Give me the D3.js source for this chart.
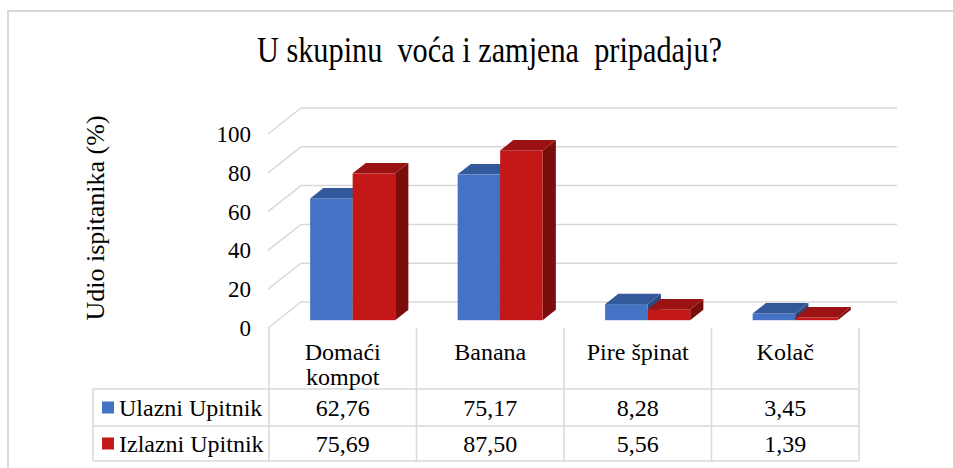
<!DOCTYPE html>
<html>
<head>
<meta charset="utf-8">
<script src="https://cdn.jsdelivr.net/npm/d3@7"></script>
<style>
  body { margin: 0; background: #fff; }
  svg { display: block; }
</style>
</head>
<body>
<svg width="953" height="468"></svg>
<script>
// data
const categories = ["Domaći kompot", "Banana", "Pire špinat", "Kolač"];
const seriesNames = ["Ulazni Upitnik", "Izlazni Upitnik"];
const ulazni = [62.76, 75.17, 8.28, 3.45];
const izlazni = [75.69, 87.50, 5.56, 1.39];
const yTicks = [0, 20, 40, 60, 80, 100];
const title = "U skupinu  voća i zamjena  pripadaju?";
const yTitle = "Udio ispitanika (%)";

const values = [ulazni, izlazni];
const colors = [
  { front: "#4472c4", top: "#34599b", side: "#2b4a82" },
  { front: "#c41718", top: "#9a1212", side: "#7c0d0d" }
];

const serif = "'Liberation Serif', 'Times New Roman', serif";
const svg = d3.select("svg");
const grid = "#d9d9d9";

// every label goes through this so the serif face sticks
function label(sel) {
  return sel.append("text").style("font-family", serif).attr("fill", "#000");
}

// frame
svg.append("rect")
    .attr("x", 8).attr("y", 11)
    .attr("width", 960).attr("height", 470)
    .attr("fill", "none").attr("stroke", grid).attr("stroke-width", 2);

// title (rendered narrow in the original)
label(svg)
    .attr("x", 257).attr("y", 62)
    .attr("font-size", 35)
    .attr("textLength", 465)
    .attr("lengthAdjust", "spacingAndGlyphs")
    .style("white-space", "pre")
    .text(title);

// 3d depth vector of the floor
const depth = { dx: 33, dy: -26 };
const d0 = 0.3, d1 = 0.7;

const x0 = d3.scaleBand().domain(categories).range([269, 859]);
const x1 = d3.scaleBand().domain(seriesNames).range([0, x0.bandwidth()]).paddingOuter(0.735);
const y = d3.scaleLinear().domain([0, 100]).range([328, 134]);
const wallX0 = 268, wallX1 = 864;

// back wall + side wall gridlines
const gl = svg.append("g").attr("stroke", grid).attr("stroke-width", 1.5).attr("fill", "none");
yTicks.forEach(t => {
  gl.append("path").attr("d", d3.line()([
    [wallX0, y(t)],
    [wallX0 + depth.dx, y(t) + depth.dy],
    [wallX1 + depth.dx, y(t) + depth.dy]
  ]));
});

// y tick labels
yTicks.forEach(t => {
  label(svg)
      .attr("x", 251).attr("y", y(t) + 8)
      .attr("text-anchor", "end")
      .attr("font-size", 23)
      .text(t);
});

// y title
label(svg)
    .attr("transform", "translate(104,218) rotate(-90)")
    .attr("text-anchor", "middle")
    .attr("font-size", 26)
    .text(yTitle);

// bars
const bars = svg.append("g");
categories.forEach((c, i) => {
  seriesNames.forEach((s, j) => {
    const v = values[j][i];
    const xl = x0(c) + x1(s) + depth.dx * d0;
    const xr = xl + x1.bandwidth();
    const yb = y(0) + depth.dy * d0;
    const yt = y(v) + depth.dy * d0;
    const ox = depth.dx * (d1 - d0), oy = depth.dy * (d1 - d0);
    const col = colors[j];
    // side
    bars.append("path")
        .attr("d", d3.line()([[xr, yb], [xr + ox, yb + oy], [xr + ox, yt + oy], [xr, yt]]) + "Z")
        .attr("fill", col.side);
    // front
    bars.append("rect")
        .attr("x", xl).attr("y", yt)
        .attr("width", xr - xl).attr("height", yb - yt)
        .attr("fill", col.front);
    // top
    bars.append("path")
        .attr("d", d3.line()([[xl, yt], [xl + ox, yt + oy], [xr + ox, yt + oy], [xr, yt]]) + "Z")
        .attr("fill", col.top);
  });
});

// data table
const rowY = [389, 426, 461];
const tableLeft = 93;
const tg = svg.append("g").attr("stroke", grid).attr("stroke-width", 1.5);
const colEdges = categories.map(c => x0(c)).concat([x0.range()[1]]);
colEdges.forEach(xe => {
  tg.append("line").attr("x1", xe).attr("x2", xe).attr("y1", y(0)).attr("y2", rowY[2]);
});
rowY.forEach(ry => {
  tg.append("line").attr("x1", tableLeft).attr("x2", x0.range()[1]).attr("y1", ry).attr("y2", ry);
});
tg.append("line").attr("x1", tableLeft).attr("x2", tableLeft).attr("y1", rowY[0]).attr("y2", rowY[2]);

// category labels (wrapped to the column)
categories.forEach(c => {
  const cx = x0(c) + x0.bandwidth() / 2;
  const t = label(svg)
      .attr("x", cx)
      .attr("y", 360)
      .attr("text-anchor", "middle")
      .attr("font-size", 24);
  let line = [];
  let tspan = t.append("tspan").attr("x", cx).attr("dy", 0);
  c.split(" ").forEach(w => {
    line.push(w);
    tspan.text(line.join(" "));
    if (tspan.node().getComputedTextLength() > x0.bandwidth() - 10 && line.length > 1) {
      line.pop();
      tspan.text(line.join(" "));
      line = [w];
      tspan = t.append("tspan").attr("x", cx).attr("dy", 25).text(w);
    }
  });
});

const fmt = d3.formatLocale({ decimal: ",", thousands: ".", grouping: [3], currency: ["", ""] }).format(".2f");

seriesNames.forEach((s, j) => {
  const cy = (rowY[j] + rowY[j + 1]) / 2;
  svg.append("rect")
      .attr("x", 102).attr("y", cy - 6)
      .attr("width", 12).attr("height", 12)
      .attr("fill", colors[j].front);
  label(svg)
      .attr("x", 119).attr("y", cy + 8)
      .attr("font-size", 24)
      .text(s);
  categories.forEach((c, i) => {
    label(svg)
        .attr("x", x0(c) + x0.bandwidth() / 2)
        .attr("y", cy + 8)
        .attr("text-anchor", "middle")
        .attr("font-size", 24)
        .text(fmt(values[j][i]));
  });
});
</script>
</body>
</html>
